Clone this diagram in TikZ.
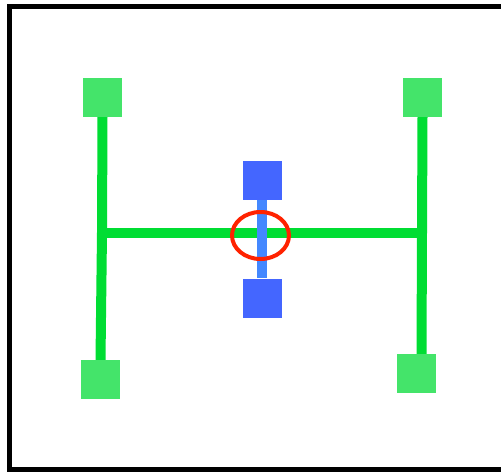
\documentclass[tikz,border=0pt]{standalone}
\usetikzlibrary{shapes.geometric}
\begin{document}
\begin{tikzpicture}[x=1pt,y=-1pt,
  gsq/.style={fill=sqgreen,draw=none,minimum size=39pt,inner sep=0pt},
  bsq/.style={fill=sqblue,draw=none,minimum size=39pt,inner sep=0pt},
  gline/.style={draw=lngreen,line width=10pt},
  bline/.style={draw=lnblue,line width=10pt}]
\definecolor{sqgreen}{HTML}{44E46A}
\definecolor{lngreen}{HTML}{00DD33}
\definecolor{sqblue}{HTML}{4466FF}
\definecolor{lnblue}{HTML}{4488FF}
\definecolor{ringred}{HTML}{FF2200}
\useasboundingbox (0,0) rectangle (501,472);
\clip (0,0) rectangle (501,472);
\fill[white] (0,0) rectangle (501,472);
\draw[line width=5pt] (510,6.5) -- (9,6.5) -- (9,469.5) -- (510,469.5);
% coordinates
\coordinate (tlstem) at (102.5,117);
\coordinate (jl) at (102,232.5);
\coordinate (blstem) at (100.5,360);
\coordinate (trstem) at (422.5,117);
\coordinate (jr) at (422,232.5);
\coordinate (brstem) at (421.5,354);
% lines
\draw[gline] (tlstem) -- (jl) -- (blstem);
\draw[gline] (trstem) -- (jr) -- (brstem);
\draw[gline] (jl) -- (jr);
% squares
\node[gsq] (tl) at (102.5,97.5) {};
\node[gsq] (tr) at (422.3,97.5) {};
\node[gsq] (bl) at (100.5,379.5) {};
\node[gsq] (br) at (416.5,373.5) {};
\node[bsq] (bt) at (262.3,180.5) {};
\node[bsq] (bb) at (262.3,298) {};
\draw[bline] (bt.south) -- (bb.north);
\node[draw=ringred,line width=4pt,ellipse,minimum width=57pt,minimum height=47pt,inner sep=0pt] (ring) at (260.5,235.5) {};
\end{tikzpicture}
\end{document}
